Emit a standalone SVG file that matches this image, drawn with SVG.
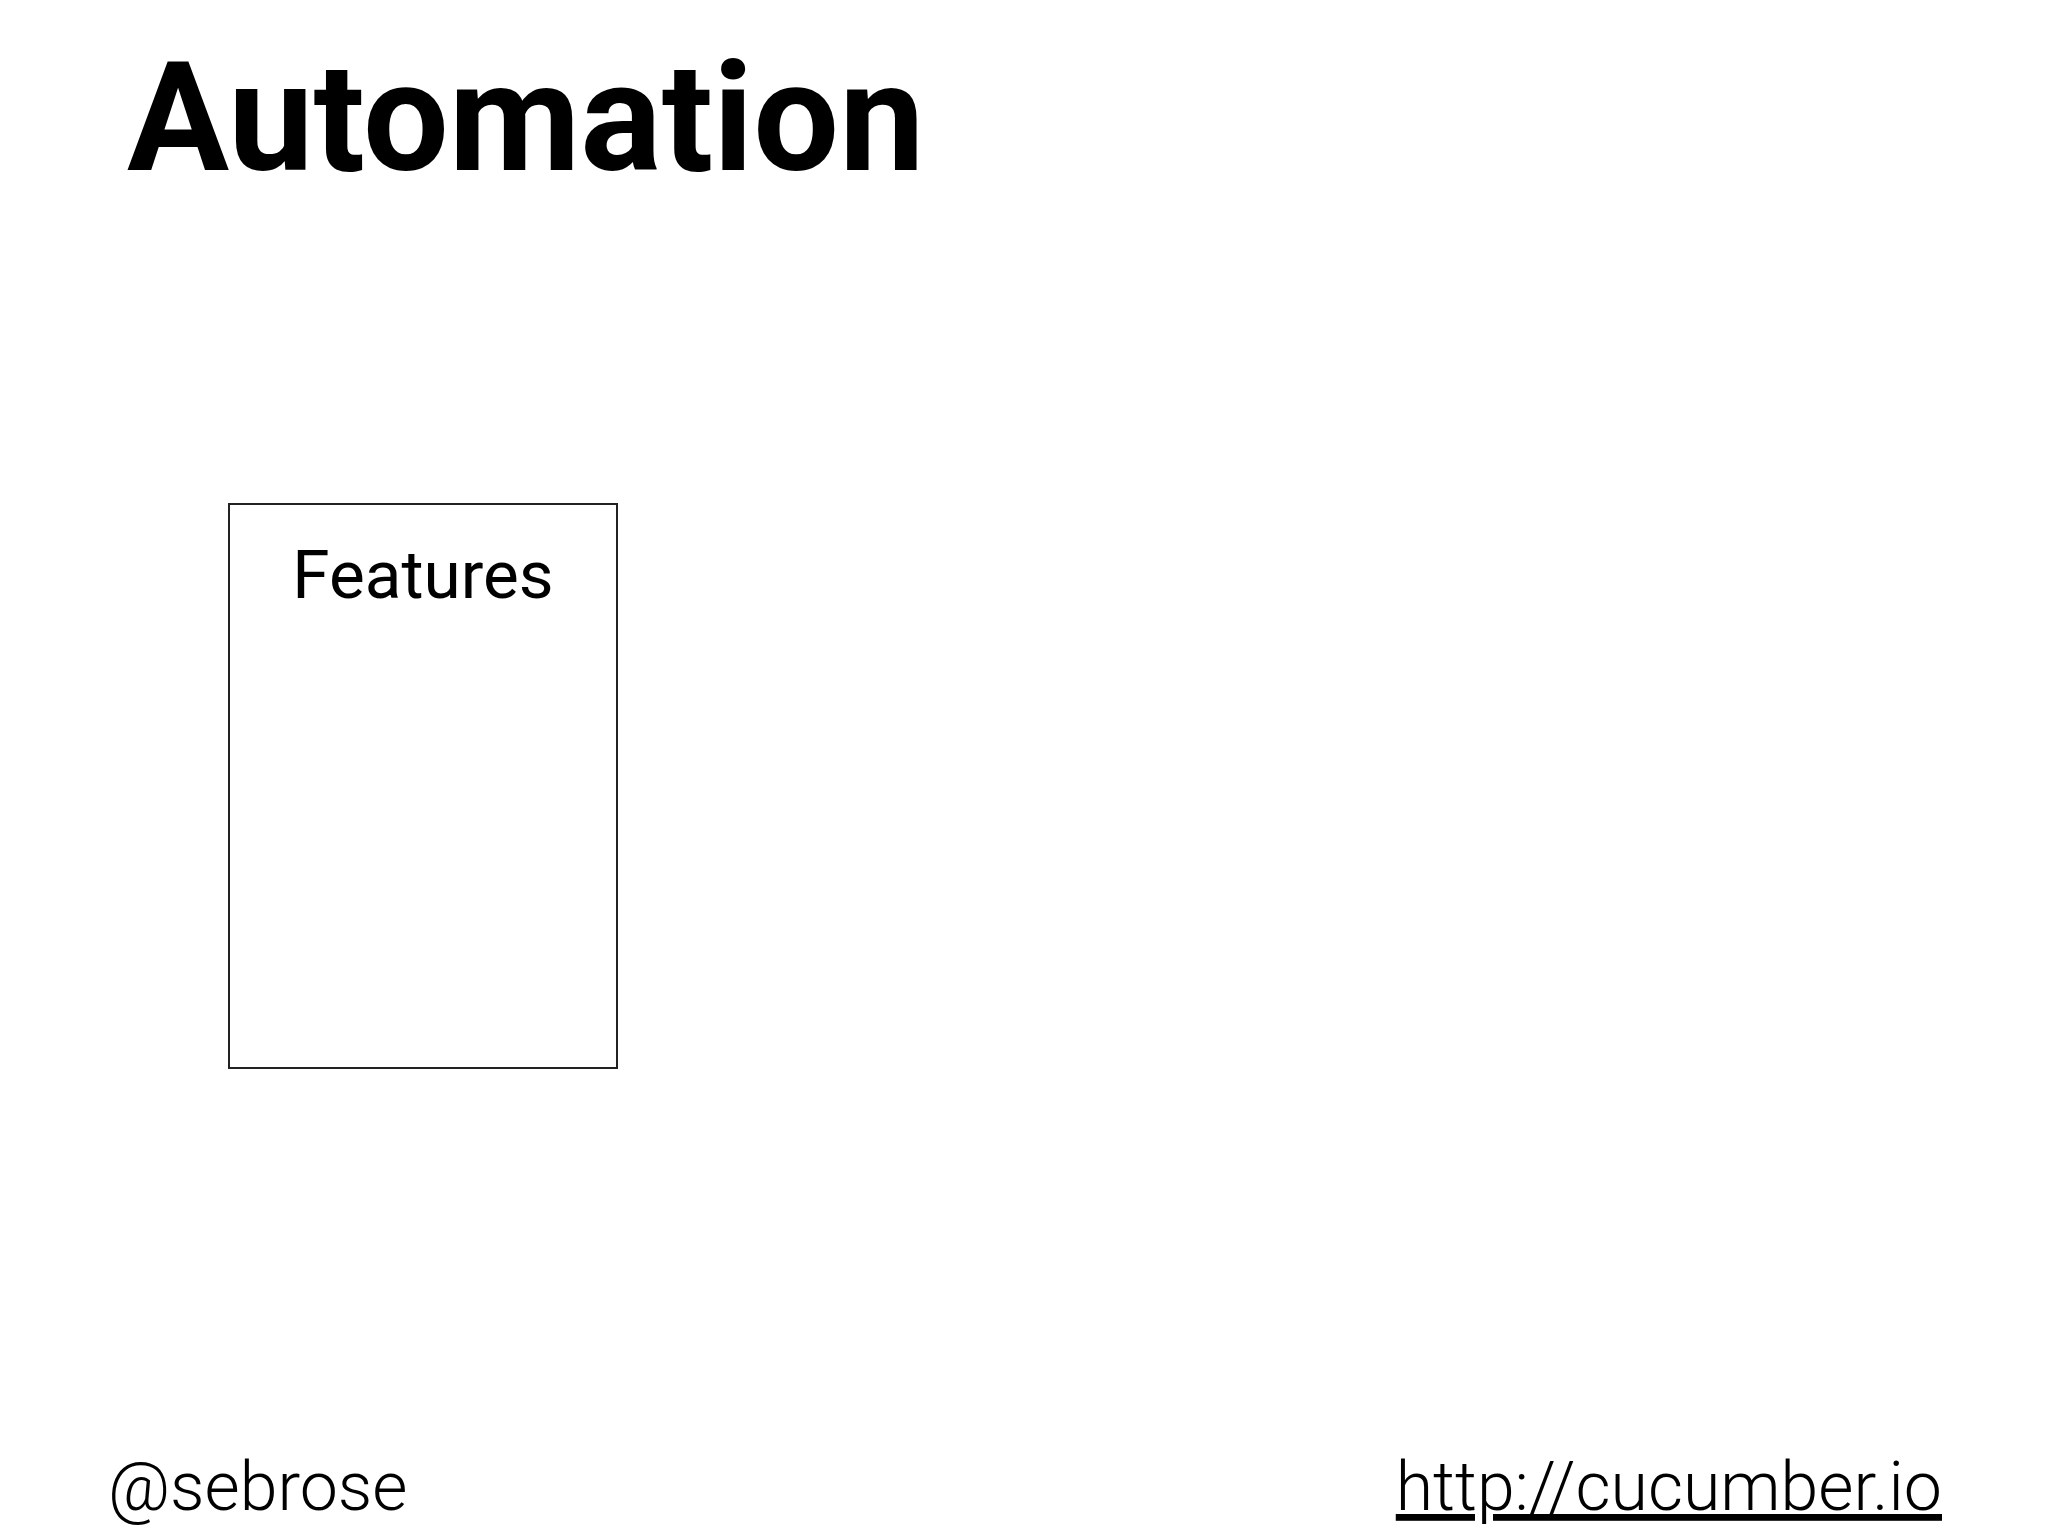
<svg xmlns="http://www.w3.org/2000/svg" width="2048" height="1536" viewBox="0 0 2048 1536">
<style>
.title{font-family:Roboto,"Liberation Sans",sans-serif;font-weight:700;font-size:152px;fill:#000}
.label{font-family:Roboto,"Liberation Sans",sans-serif;font-weight:400;font-size:67.5px;fill:#000}
.foot{font-family:Roboto,"Liberation Sans",sans-serif;font-weight:300;font-size:68px;fill:#000}
.box{fill:#fff;stroke:#222;stroke-width:2}
</style>
<rect width="2048" height="1536" fill="#fff"/>
<text class="title" x="127" y="170">Automation</text>
<g id="features">
<rect class="box" x="229" y="504" width="388" height="564"/>
<text class="label" x="423" y="598" text-anchor="middle">Features</text>
</g>
<g id="connectors"></g>
<text class="foot" x="108" y="1510">@sebrose</text>
<text class="foot" x="1942" y="1510" text-anchor="end" text-decoration="underline">http://cucumber.io</text>
</svg>
